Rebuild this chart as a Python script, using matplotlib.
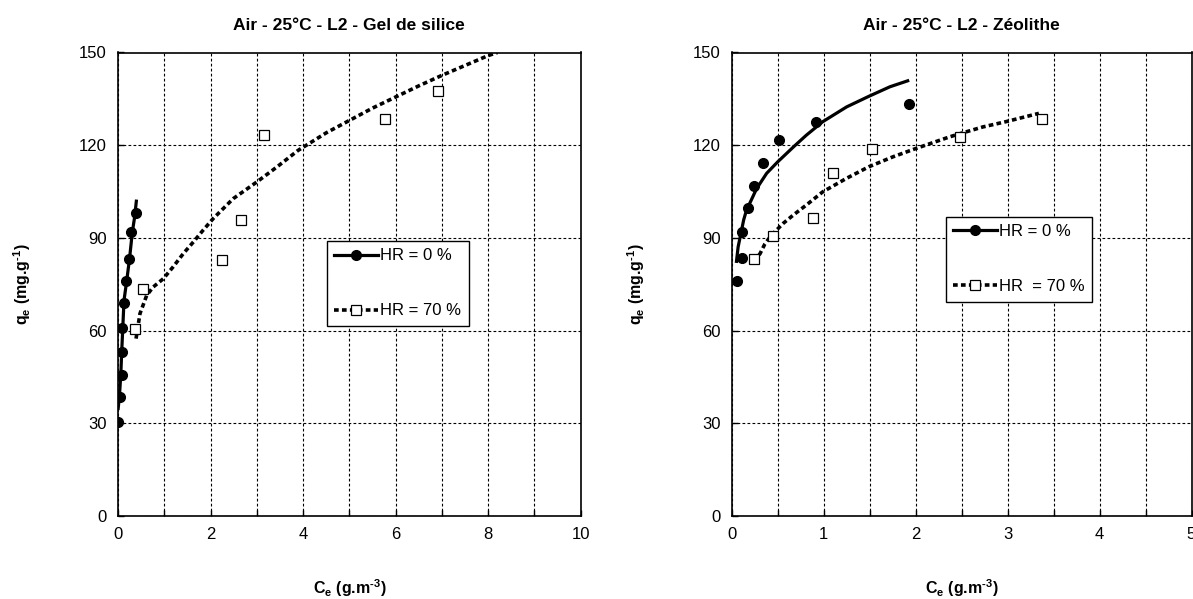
import matplotlib
matplotlib.use("Agg")
import matplotlib.pyplot as plt
from matplotlib.lines import Line2D
from matplotlib.ticker import MultipleLocator

plt.rcParams['font.family'] = ['Liberation Sans', 'DejaVu Sans']
plt.rcParams['mathtext.fontset'] = 'custom'
plt.rcParams['mathtext.rm'] = 'Liberation Sans'
plt.rcParams['mathtext.bf'] = 'Liberation Sans:bold'

# ---- Left panel: Gel de silice ----
gel_hr0_x = [0.0, 0.04, 0.08, 0.09, 0.09, 0.13, 0.17, 0.23, 0.29, 0.39]
gel_hr0_y = [30.5, 38.5, 45.7, 53.1, 60.8, 68.9, 76.1, 83.3, 91.8, 97.9]
gel_hr0_fit_x = [0.0, 0.03, 0.06, 0.08, 0.13, 0.19, 0.25, 0.31, 0.36, 0.40]
gel_hr0_fit_y = [34.3, 38.6, 45.6, 53.1, 69.8, 76.3, 83.4, 91.9, 96.8, 102.4]

gel_hr70_x = [0.37, 0.55, 2.24, 2.65, 3.16, 5.78, 6.92]
gel_hr70_y = [60.5, 73.5, 82.8, 95.7, 123.4, 128.4, 137.4]
gel_hr70_fit_x = [0.39, 0.475, 0.62, 0.76, 0.98, 1.19, 1.41, 1.63, 1.84, 2.06, 2.49,
                  3.0, 3.43, 3.89, 4.5, 5.0, 5.5, 6.0, 6.5, 7.0, 7.5, 8.0, 8.2]
gel_hr70_fit_y = [57.4, 65.5, 71.4, 74.1, 76.8, 80.6, 84.9, 88.7, 92.5, 96.3, 102.7,
                  108.1, 112.9, 118.3, 124.0, 128.0, 132.0, 135.6, 139.2, 142.6, 145.8, 149.0, 150.0]

# ---- Right panel: Zéolithe ----
zeo_hr0_x = [0.06, 0.11, 0.115, 0.18, 0.24, 0.34, 0.51, 0.92, 1.93]
zeo_hr0_y = [76.0, 83.6, 92.0, 99.6, 106.8, 114.3, 121.8, 127.6, 133.4]
zeo_hr0_fit_x = [0.05, 0.07, 0.10, 0.13, 0.16, 0.22, 0.27, 0.38, 0.5, 0.67, 0.81,
                 0.99, 1.25, 1.49, 1.72, 1.93]
zeo_hr0_fit_y = [81.9, 87.1, 91.4, 95.8, 98.9, 102.7, 105.9, 110.9, 114.6, 119.4, 123.2,
                 127.6, 132.4, 135.8, 138.9, 141.0]

zeo_hr70_x = [0.24, 0.45, 0.88, 1.10, 1.53, 2.48, 3.37]
zeo_hr70_y = [83.2, 90.6, 96.6, 111.1, 118.8, 122.8, 128.6]
zeo_hr70_fit_x = [0.25, 0.31, 0.36, 0.42, 0.47, 0.56, 0.67, 0.81, 0.99, 1.25, 1.49,
                  1.75, 2.0, 2.37, 2.49, 2.73, 2.98, 3.34]
zeo_hr70_fit_y = [82.3, 85.0, 88.0, 90.4, 92.0, 94.7, 97.4, 100.6, 104.9, 109.3, 113.0,
                  116.2, 118.9, 122.7, 123.8, 125.9, 127.6, 130.3]

titles = ["Air - 25°C - L2 - Gel de silice", "Air - 25°C - L2 - Zéolithe"]
legend_labels = [["HR = 0 %", "HR = 70 %"], ["HR = 0 %", "HR  = 70 %"]]

W, H = 1193, 599
fig = plt.figure(figsize=(W / 100, H / 100), dpi=100)

def px_axes(x0, x1, ytop, ybot):
    return fig.add_axes([x0 / W, 1 - ybot / H, (x1 - x0) / W, (ybot - ytop) / H])

ax1 = px_axes(118, 580.7, 52.5, 516)
ax2 = px_axes(731.7, 1191.5, 52.5, 516)

solid_kw = dict(color='black', lw=2.3, solid_capstyle='butt', solid_joinstyle='round')
dash_kw = dict(color='black', lw=2.6, linestyle=(0, (1.3, 0.9)), dash_capstyle='butt')
circ_kw = dict(ls='none', marker='o', ms=7, mfc='black', mec='black')
sq_kw = dict(ls='none', marker='s', ms=6.5, mfc='white', mec='black', mew=0.9)

panels = [
    (ax1, gel_hr0_x, gel_hr0_y, gel_hr0_fit_x, gel_hr0_fit_y,
     gel_hr70_x, gel_hr70_y, gel_hr70_fit_x, gel_hr70_fit_y, 10, 2, 1),
    (ax2, zeo_hr0_x, zeo_hr0_y, zeo_hr0_fit_x, zeo_hr0_fit_y,
     zeo_hr70_x, zeo_hr70_y, zeo_hr70_fit_x, zeo_hr70_fit_y, 5, 1, 0.5),
]

legend_pos = [(326.7, 241, 467.7, 325.7), (945.7, 216.7, 1090, 300.7)]

for i, (ax, x0, y0, fx0, fy0, x7, y7, fx7, fy7, xmax, xmaj, xmin) in enumerate(panels):
    ax.plot(fx0, fy0, zorder=3, **solid_kw)
    ax.plot(fx7, fy7, zorder=3, **dash_kw)
    ax.plot(x0, y0, zorder=4, **circ_kw)
    ax.plot(x7, y7, zorder=4, **sq_kw)
    ax.set_xlim(0, xmax)
    ax.set_ylim(0, 150)
    ax.xaxis.set_major_locator(MultipleLocator(xmaj))
    ax.xaxis.set_minor_locator(MultipleLocator(xmin))
    ax.yaxis.set_major_locator(MultipleLocator(30))
    ax.grid(True, which='both', color='black', lw=0.8, linestyle=(0, (2.5, 2.0)))
    ax.set_axisbelow(True)
    ax.tick_params(which='both', direction='in', length=4, width=1, labelsize=12,
                   top=False, right=False, pad=8, colors='black')
    for s in ax.spines.values():
        s.set_linewidth(1.2)
        s.set_color('black')
    ax.set_title(titles[i], fontsize=12.5, fontweight='bold', pad=16)
    ax.set_xlabel('C$_\\mathregular{e}$ (g.m$^\\mathregular{\u20103}$)', fontsize=11.5,
                  fontweight='bold', labelpad=25)
    ax.set_ylabel('q$_\\mathregular{e}$ (mg.g$^\\mathregular{\u20101}$)', fontsize=11.5,
                  fontweight='bold', labelpad=33)

    h0 = Line2D([], [], color='black', lw=2.3, marker='o', ms=7, mfc='black')
    h7 = Line2D([], [], color='black', lw=2.6, linestyle=(0, (1.3, 0.9)),
                marker='s', ms=6.5, mfc='white', mec='black', mew=0.9)
    lx0, ly0, lx1, ly1 = legend_pos[i]
    leg = fig.legend([h0, h7], legend_labels[i], loc='upper left',
                     bbox_to_anchor=(lx0 / W, 1 - ly0 / H), frameon=True, fancybox=False,
                     fontsize=12, labelspacing=2.4, handlelength=2.6, handletextpad=0.15,
                     borderpad=0.45, borderaxespad=0, edgecolor='black', framealpha=1)
    leg.get_frame().set_linewidth(1.0)

fig.savefig('out.png', dpi=100)
